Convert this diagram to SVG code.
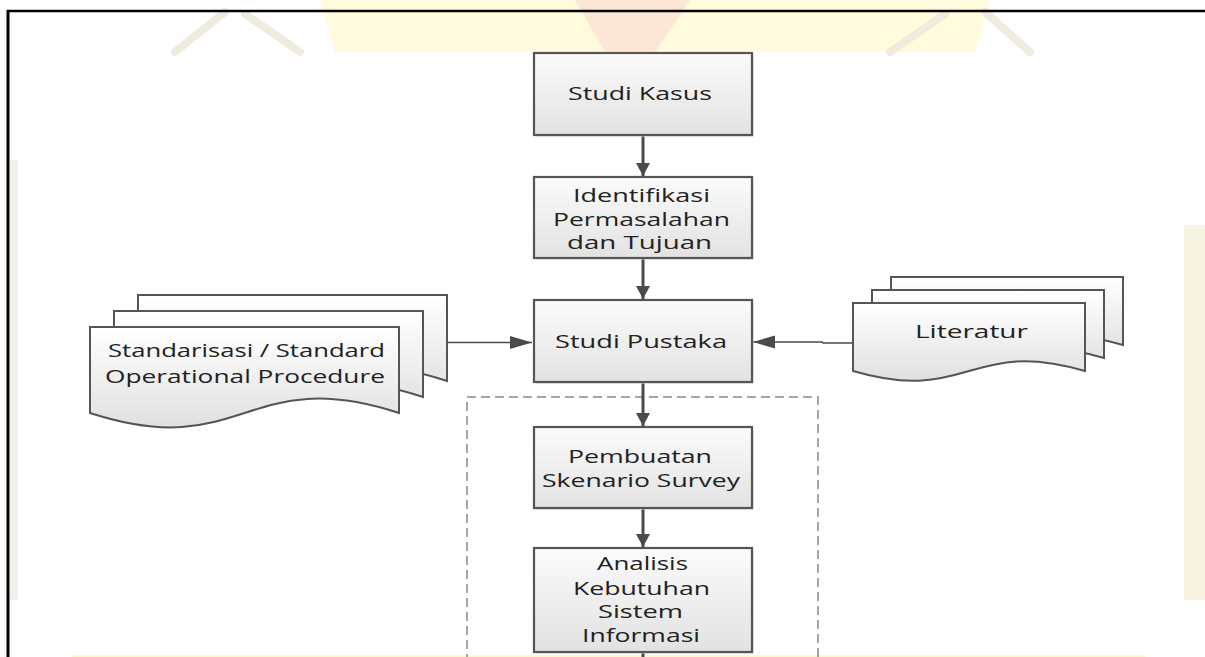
<svg xmlns="http://www.w3.org/2000/svg" width="1205" height="657" viewBox="0 0 1205 657">
<defs>
<linearGradient id="gBox" x1="0" y1="0" x2="0" y2="1"><stop offset="0" stop-color="#fbfbfb"/><stop offset="1" stop-color="#e2e2e2"/></linearGradient>
<linearGradient id="gDoc" x1="0" y1="0" x2="0" y2="1"><stop offset="0" stop-color="#ffffff"/><stop offset="1" stop-color="#e0e0e0"/></linearGradient>
<marker id="aV" markerUnits="userSpaceOnUse" markerWidth="16" markerHeight="14" refX="13" refY="7" orient="auto"><path d="M0,0 L13,7 L0,14 z" fill="#4a4a4a"/></marker>
<marker id="aH" markerUnits="userSpaceOnUse" markerWidth="24" markerHeight="14" refX="22" refY="6.5" orient="auto"><path d="M0,0 L22,6.5 L0,13 z" fill="#4a4a4a"/></marker>
<style>
.box{fill:url(#gBox);stroke:#555;stroke-width:2.2}
.shadow{fill:#d9d9d9;opacity:.55}
.doc{fill:url(#gDoc);stroke:#555;stroke-width:2;stroke-linejoin:miter}
.t{font-family:"Open Sans","Liberation Sans",sans-serif;font-size:18px;fill:#222;text-anchor:middle}
.v{stroke:#4a4a4a;stroke-width:3;fill:none}
.h{stroke:#4a4a4a;stroke-width:1.6;fill:none}
.wm{fill:none;stroke:#efebdf;stroke-width:8;stroke-linecap:round}
</style>
</defs>

<g id="watermark">
<polygon points="320,0 990,0 975,52 335,52" fill="#fffbdc"/>
<polygon points="575,0 690,0 655,52 605,52" fill="#fce7d6"/>
<path class="wm" d="M175,52 L225,12"/>
<path class="wm" d="M245,14 L300,52"/>
<path class="wm" d="M890,52 L945,14"/>
<path class="wm" d="M985,12 L1030,52"/>
<rect x="10" y="160" width="8" height="440" fill="#f2f1e8"/>
<rect x="1184" y="225" width="21" height="375" fill="#f7f5e2"/>
<rect x="72" y="655" width="1073" height="2" fill="#fbf8cc"/>
</g>

<g id="frame">
<line x1="7" y1="11" x2="1205" y2="11" stroke="#000" stroke-width="2.6"/>
<line x1="8" y1="10" x2="8" y2="657" stroke="#000" stroke-width="3"/>
</g>

<rect id="group-box" x="467" y="397" width="351" height="300" fill="none" stroke="#8a8a8a" stroke-width="1.5" stroke-dasharray="9 5"/>

<g id="connectors">
<line class="v" x1="643" y1="136" x2="643" y2="176" marker-end="url(#aV)"/>
<line class="v" x1="643" y1="259" x2="643" y2="299" marker-end="url(#aV)"/>
<line class="v" x1="643" y1="383" x2="643" y2="426" marker-end="url(#aV)"/>
<line class="v" x1="643" y1="509" x2="643" y2="547" marker-end="url(#aV)"/>
<line class="v" x1="643" y1="653" x2="643" y2="657"/>
<line class="h" x1="447" y1="342.5" x2="532" y2="342.5" marker-end="url(#aH)"/>
<polyline class="h" points="853,343 823,343 822,342 753,342" marker-end="url(#aH)"/>
</g>

<g id="studi-kasus">
<rect class="shadow" x="536" y="55" width="218" height="82"/>
<rect class="box" x="534" y="53" width="218" height="82"/>
<text class="t" x="640" y="100" textLength="144" lengthAdjust="spacingAndGlyphs">Studi Kasus</text>
</g>

<g id="identifikasi">
<rect class="shadow" x="536" y="179" width="218" height="81"/>
<rect class="box" x="534" y="177" width="218" height="81"/>
<text class="t" x="641.5" y="202" textLength="137" lengthAdjust="spacingAndGlyphs">Identifikasi</text>
<text class="t" x="641.5" y="226" textLength="177" lengthAdjust="spacingAndGlyphs">Permasalahan</text>
<text class="t" x="639.5" y="249" textLength="145" lengthAdjust="spacingAndGlyphs">dan Tujuan</text>
</g>

<g id="studi-pustaka">
<rect class="shadow" x="536" y="302" width="218" height="82"/>
<rect class="box" x="534" y="300" width="218" height="82"/>
<text class="t" x="641" y="348" textLength="172" lengthAdjust="spacingAndGlyphs">Studi Pustaka</text>
</g>

<g id="pembuatan">
<rect class="shadow" x="536" y="429" width="218" height="81"/>
<rect class="box" x="534" y="427" width="218" height="81"/>
<text class="t" x="640" y="463" textLength="144" lengthAdjust="spacingAndGlyphs">Pembuatan</text>
<text class="t" x="641" y="487" textLength="198" lengthAdjust="spacingAndGlyphs">Skenario Survey</text>
</g>

<g id="analisis">
<rect class="shadow" x="536" y="550" width="218" height="104"/>
<rect class="box" x="534" y="548" width="218" height="104"/>
<text class="t" x="642.5" y="570" textLength="91" lengthAdjust="spacingAndGlyphs">Analisis</text>
<text class="t" x="641.5" y="595" textLength="137" lengthAdjust="spacingAndGlyphs">Kebutuhan</text>
<text class="t" x="640.5" y="618" textLength="85" lengthAdjust="spacingAndGlyphs">Sistem</text>
<text class="t" x="641" y="642" textLength="118" lengthAdjust="spacingAndGlyphs">Informasi</text>
</g>

<g id="sop-documents">
<path class="doc" d="M138,295 L447,295 L447,381 C292.5,331 292.5,431 138,381 Z"/>
<path class="doc" d="M114,311 L423,311 L423,397 C268.5,347 268.5,447 114,397 Z"/>
<path class="doc" d="M90,327 L399,327 L399,413 C244.5,363 244.5,463 90,413 Z"/>
<text class="t" x="246.5" y="357" textLength="277" lengthAdjust="spacingAndGlyphs">Standarisasi / Standard</text>
<text class="t" x="245" y="383" textLength="280" lengthAdjust="spacingAndGlyphs">Operational Procedure</text>
</g>

<g id="literatur-documents">
<path class="doc" d="M891,277 L1123,277 L1123,345 C1007,311 1007,379 891,345 Z"/>
<path class="doc" d="M872,290 L1104,290 L1104,358 C988,324 988,392 872,358 Z"/>
<path class="doc" d="M853,303 L1085,303 L1085,371 C969,337 969,405 853,371 Z"/>
<text class="t" x="971.5" y="338" textLength="113" lengthAdjust="spacingAndGlyphs">Literatur</text>
</g>
</svg>
